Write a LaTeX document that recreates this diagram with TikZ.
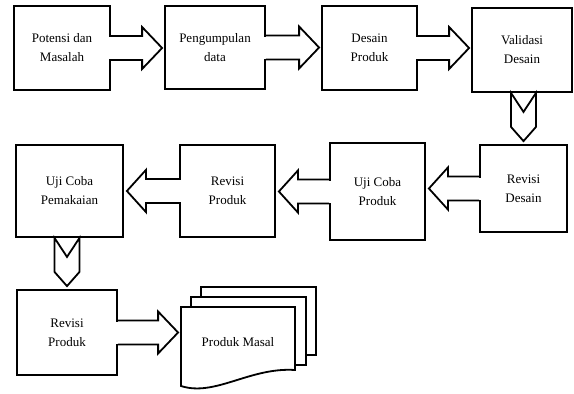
\documentclass[tikz,border=0pt]{standalone}
\usepackage{fontspec}
\setmainfont{Liberation Serif}
\usetikzlibrary{calc, positioning}

% fat block arrows between two boxes
\newcommand{\fatright}[2]{%
 \fill[white] ($(#1.east)+(-1.5,-11)$) rectangle ($(#1.east)+(1.5,11)$);
 \draw[fat] ($(#1.east)+(0,-12)$) -- ($(#2.west |- #1.east)+(-22,-12)$) -- ++(0,-9)
  -- ($(#2.west |- #1.east)+(-2,0)$) -- ($(#2.west |- #1.east)+(-22,21)$) -- ++(0,-9)
  -- ($(#1.east)+(0,12)$);
}
\newcommand{\fatleft}[2]{%
 \fill[white] ($(#1.west)+(-1.5,-11)$) rectangle ($(#1.west)+(1.5,11)$);
 \draw[fat] ($(#1.west)+(0,-12)$) -- ($(#2.east |- #1.west)+(22,-12)$) -- ++(0,-9)
  -- ($(#2.east |- #1.west)+(3,0)$) -- ($(#2.east |- #1.west)+(22,21)$) -- ++(0,-9)
  -- ($(#1.west)+(0,12)$);
}
\newcommand{\fatdown}[2]{%
 \draw[fat] ($(#2.north |- #1.south)+(-12.5,0)$) -- ($(#2.north |- #1.south)+(0,19)$)
  -- ($(#2.north |- #1.south)+(12.5,0)$) -- ($(#2.north |- #1.south)+(12.5,34)$)
  -- ($(#2.north)+(0,-3)$) -- ($(#2.north |- #1.south)+(-12.5,34)$) -- cycle;
}

\begin{document}
\begin{tikzpicture}[x=1pt, y=-1pt]
% We define the styles for the boxes and the fat arrows
 \tikzset{
block/.style = {draw, rectangle, line width=1.8pt, align=center, inner sep=0pt, font=\fontsize{13}{19}\selectfont},
fat/.style = {draw, line width=1.8pt, line join=miter},
sheet/.style = {draw, line width=1.8pt, fill=white},
}
\useasboundingbox (0,0) rectangle (574,394);

 % First row
 \node [block, minimum width=96pt, minimum height=84pt] (potensi) at (62,48) {Potensi dan\\Masalah};
 \node [block, minimum width=100pt, minimum height=83pt] (kumpul) at (215,47.5) {Pengumpulan\\data};
 \node [block, minimum width=95pt, minimum height=84pt] (desain) at (369.5,48) {Desain\\Produk};
 \node [block, minimum width=100pt, minimum height=84pt] (validasi) at (522,50) {Validasi\\Desain};

 % Second row
 \node [block, minimum width=87pt, minimum height=87pt] (revdesain) at (523.5,188.5) {Revisi\\Desain};
 \node [block, minimum width=95pt, minimum height=97pt] (ujiproduk) at (377.5,191.5) {Uji Coba\\Produk};
 \node [block, minimum width=95pt, minimum height=92pt] (revproduk) at (227.5,191) {Revisi\\Produk};
 \node [block, minimum width=107pt, minimum height=92pt] (ujipakai) at (69.5,191) {Uji Coba\\Pemakaian};

 % Third row
 \node [block, minimum width=100pt, minimum height=85pt] (revakhir) at (67,332.5) {Revisi\\Produk};

 % Stack of documents
 \draw [sheet] (201,287) rectangle (316,355);
 \draw [sheet] (191,297) rectangle (306,365);
 \draw [sheet] (181,307) -- (295,307) -- (295,370)
  .. controls (250,367) and (215,397) .. (181,386) -- cycle;
 \node [block, draw=none, minimum width=114pt, minimum height=60pt] (masal) at (238,342) {Produk Masal};

 % Arrows
 \fatright{potensi}{kumpul}
 \fatright{kumpul}{desain}
 \fatright{desain}{validasi}
 \fatdown{validasi}{revdesain}
 \fatleft{revdesain}{ujiproduk}
 \fatleft{ujiproduk}{revproduk}
 \fatleft{revproduk}{ujipakai}
 \fatdown{ujipakai}{revakhir}
 \fatright{revakhir}{masal}

\end{tikzpicture}
\end{document}
